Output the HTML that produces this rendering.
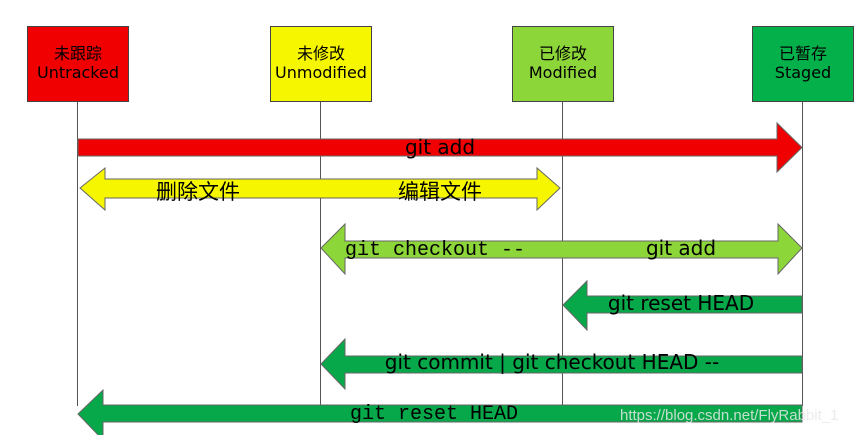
<!DOCTYPE html>
<html><head><meta charset="utf-8"><style>
html,body{margin:0;padding:0;background:#fff;width:860px;height:435px;overflow:hidden}
svg{display:block}
.s{font-family:"DejaVu Sans","Noto Sans CJK SC",sans-serif;font-size:20px;fill:#000}
.m{font-family:"Liberation Mono","DejaVu Sans Mono",monospace;font-size:20px;fill:#000}
.c{font-family:"Noto Sans CJK SC",sans-serif;font-size:21px;fill:#000}
.b{font-family:"DejaVu Sans","Noto Sans CJK SC",sans-serif;font-size:16px;fill:#000}
</style></head><body>
<svg width="860" height="435" viewBox="0 0 860 435">
<g stroke="#555" stroke-width="1">
<line x1="77.5" y1="102" x2="77.5" y2="406"/>
<line x1="320.5" y1="102" x2="320.5" y2="406"/>
<line x1="562.5" y1="102" x2="562.5" y2="406"/>
<line x1="802.5" y1="102" x2="802.5" y2="406"/>
</g>
<g stroke="#444" stroke-width="1">
<rect x="27.5" y="26.5" width="101" height="75" fill="#f00000"/>
<rect x="270.5" y="26.5" width="101" height="75" fill="#f6f600"/>
<rect x="512.5" y="26.5" width="101" height="75" fill="#8cd63a"/>
<rect x="752.5" y="26.5" width="101" height="75" fill="#04b04a"/>
</g>
<g text-anchor="middle">
<text class="b" x="78" y="59">未跟踪</text><text class="b" x="78" y="78">Untracked</text>
<text class="b" x="321" y="59">未修改</text><text class="b" x="321" y="78">Unmodified</text>
<text class="b" x="563" y="59">已修改</text><text class="b" x="563" y="78">Modified</text>
<text class="b" x="803" y="59">已暂存</text><text class="b" x="803" y="78">Staged</text>
</g>
<g stroke="#666" stroke-width="1">
<polygon fill="#f00000" points="78,139 777,139 777,123 802,147.5 777,172 777,156 78,156"/>
<polygon fill="#f6f600" points="80,188 105,168 105,179 537,179 537,168 560,188 537,210 537,198 105,198 105,210"/>
<polygon fill="#8cd63a" points="321,248 345,224 345,241 778,241 778,224 802,248 778,274 778,258 345,258 345,274"/>
<polygon fill="#06a84a" points="563,305 587,281 587,296 802,296 802,313 587,313 587,330"/>
<polygon fill="#06a84a" points="321,364 345,339 345,356 802,356 802,373 345,373 345,389"/>
<polygon fill="#06a84a" points="78,414 103,390 103,405 802,405 802,422 103,422 103,440"/>
</g>
<text class="s" x="440" y="154" text-anchor="middle">git add</text>
<text class="c" x="198" y="199" text-anchor="middle">删除文件</text>
<text class="c" x="440" y="199" text-anchor="middle">编辑文件</text>
<text class="m" x="345" y="255">git checkout --</text>
<text class="s" x="681" y="255" text-anchor="middle">git add</text>
<text class="s" x="681" y="310" text-anchor="middle">git reset HEAD</text>
<text class="s" x="552" y="369" text-anchor="middle">git commit | git checkout HEAD --</text>
<text class="m" x="350" y="419">git reset HEAD</text>
<text x="620" y="420" font-family="Liberation Sans,sans-serif" font-size="15" fill="#e8e8e8" fill-opacity="0.85">https://blog.csdn.net/FlyRabbit_1</text>
</svg>
</body></html>
